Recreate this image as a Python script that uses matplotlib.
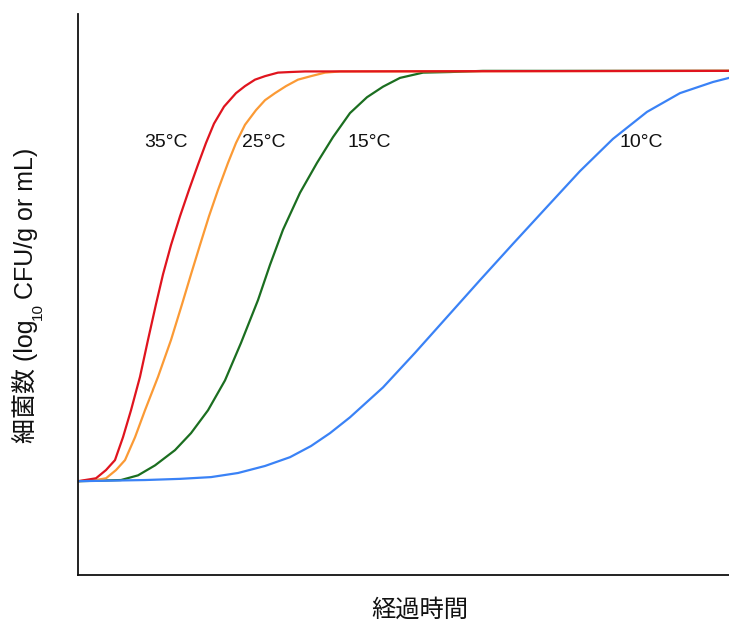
import matplotlib
matplotlib.use("Agg")
import matplotlib.pyplot as plt

plt.rcParams['font.family'] = ['Liberation Sans', 'Noto Sans CJK JP', 'DejaVu Sans']

# 経過時間 (任意単位) と 細菌数 (log10)
t_35 = [0, 2.76, 4.30, 5.68, 6.91, 8.14, 9.52, 10.75, 11.98, 13.06, 14.29, 15.67,
        17.05, 18.43, 19.66, 20.89, 22.43, 24.27, 25.65, 27.19, 28.73, 30.72,
        32.57, 34.87, 100]
n_35 = [2.0, 2.05, 2.19, 2.36, 2.75, 3.21, 3.78, 4.41, 5.02, 5.53, 6.03, 6.52,
        6.97, 7.40, 7.77, 8.10, 8.39, 8.62, 8.74, 8.85, 8.91, 8.97,
        8.98, 8.99, 9.0]

t_25 = [0, 2.76, 4.30, 5.84, 7.22, 8.76, 10.29, 12.29, 14.29, 15.98, 17.36, 18.74,
        20.12, 21.51, 23.04, 24.27, 25.65, 27.34, 28.73, 30.26, 31.95, 33.79,
        35.79, 37.94, 40.25, 100]
n_25 = [2.0, 2.02, 2.05, 2.19, 2.36, 2.75, 3.21, 3.78, 4.41, 5.02, 5.53, 6.03,
        6.52, 6.97, 7.43, 7.77, 8.08, 8.33, 8.50, 8.62, 8.74, 8.85,
        8.91, 8.97, 8.99, 9.0]

t_15 = [0, 6.61, 9.22, 11.83, 14.90, 17.36, 19.97, 22.58, 25.04, 27.65, 29.49, 31.49,
        34.10, 36.71, 39.17, 41.78, 44.39, 46.85, 49.46, 53.0, 57.14, 62.21, 100]
n_15 = [2.0, 2.02, 2.10, 2.27, 2.53, 2.82, 3.21, 3.72, 4.36, 5.09, 5.69, 6.29,
        6.92, 7.43, 7.87, 8.28, 8.55, 8.73, 8.88, 8.97, 8.98, 9.0, 9.0]

t_10 = [0, 10.29, 15.67, 20.43, 24.58, 28.73, 32.57, 35.79, 38.71, 41.78, 46.85,
        51.77, 56.84, 61.75, 66.82, 72.04, 77.11, 82.18, 87.40, 92.47, 97.54, 100]
n_10 = [2.0, 2.02, 2.04, 2.07, 2.14, 2.26, 2.41, 2.60, 2.82, 3.09, 3.60,
        4.19, 4.82, 5.43, 6.05, 6.68, 7.29, 7.84, 8.30, 8.62, 8.81, 8.88]

labels = ['35°C', '25°C', '15°C', '10°C']
label_x = [13.5, 28.6, 44.7, 86.5]
label_y = [7.77, 7.77, 7.77, 7.77]
colors = ['#e0141e', '#fb9a35', '#1b6e20', '#3a82f6']

W, H = 729, 625
fig = plt.figure(figsize=(W / 100, H / 100), dpi=100)
ax = fig.add_axes([0.107, 0.08, 0.893, 0.8976])

# 10°C を一番上に
series = [(t_15, n_15), (t_25, n_25), (t_35, n_35), (t_10, n_10)]
order_colors = [colors[2], colors[1], colors[0], colors[3]]
for (t, n), c in zip(series, order_colors):
    ax.plot(t, n, color=c, linewidth=1.6, solid_joinstyle='round')

for lab, x, y in zip(labels, label_x, label_y):
    ax.text(x, y, lab, ha='center', va='center', fontsize=14, color='#111111')

ax.set_xlim(0, 100)
ax.set_ylim(0.4, 9.97)
ax.set_xticks([])
ax.set_yticks([])
for s in ['top', 'right']:
    ax.spines[s].set_visible(False)
for s in ['left', 'bottom']:
    ax.spines[s].set_linewidth(1.3)
    ax.spines[s].set_color('#111111')

ax.set_xlabel('経過時間', fontsize=17.5, color='#111111')
ax.xaxis.set_label_coords(0.525, -0.043)

# y ラベル: 下付き文字を含むので部品ごとに並べる
fig.canvas.draw()
renderer = fig.canvas.get_renderer()
parts = [('細菌数 (log', 18, 0, 0), ('10', 11, 9, -3), (' CFU/g or mL)', 18, 0, 0)]
x_base = 32.5 / W
y_pos = (H - 443) / H
for txt, size, shift, gap in parts:
    t = fig.text(x_base + shift / W, y_pos, txt, rotation=90, rotation_mode='anchor',
                 ha='left', va='baseline', fontsize=size, color='#111111')
    bb = t.get_window_extent(renderer)
    y_pos += (bb.height + gap) / H

fig.savefig('out.png', dpi=100)
